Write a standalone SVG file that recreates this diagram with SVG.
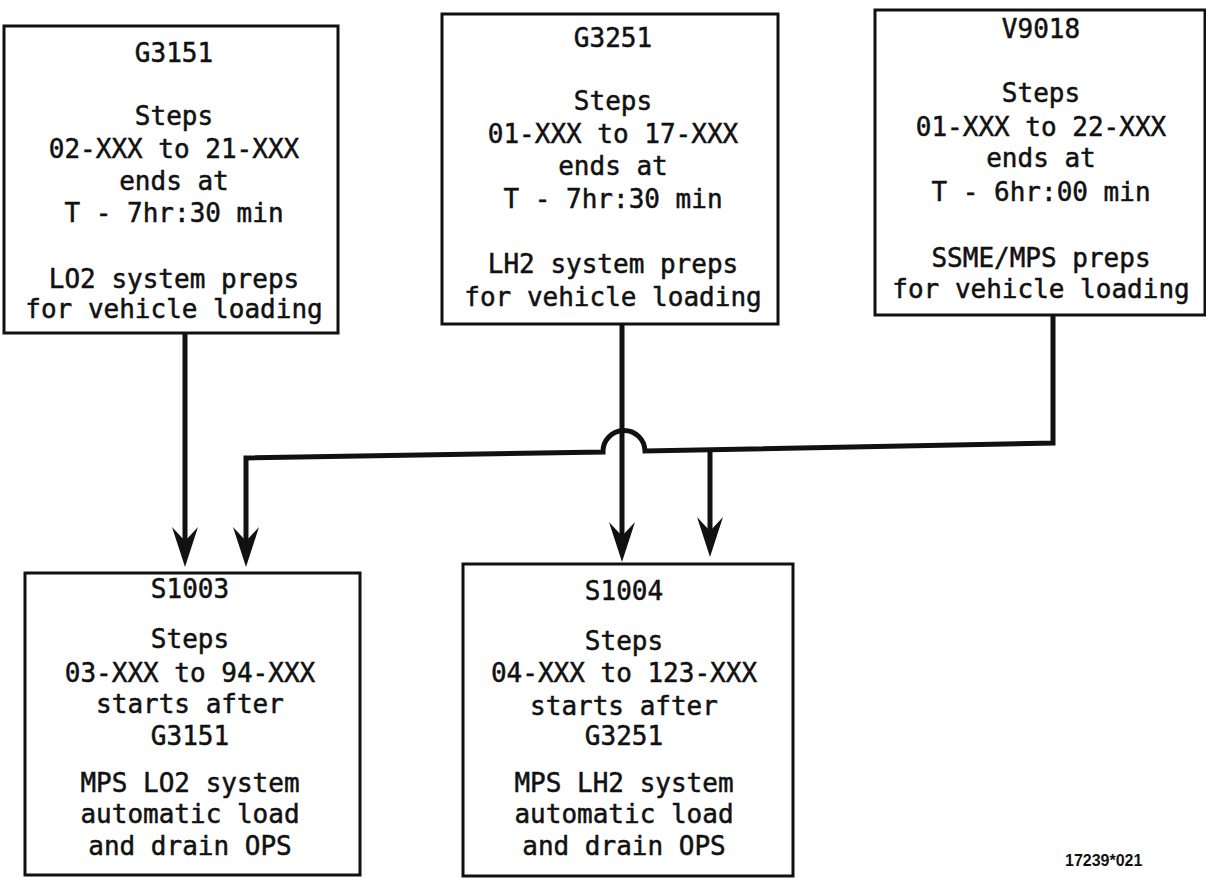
<svg xmlns="http://www.w3.org/2000/svg" width="1206" height="878" viewBox="0 0 1206 878">
<style>
.box{fill:#fff;stroke:#111;stroke-width:3}
.t{font-family:"DejaVu Sans Mono",monospace;font-size:26px;fill:#111;stroke:#111;stroke-width:0.5;text-anchor:middle}
.wire{fill:none;stroke:#111;stroke-width:5;stroke-linejoin:miter}
.tag{font-family:"Liberation Sans",Arial,sans-serif;font-weight:bold;font-size:16px;fill:#111}
</style>
<defs>
<marker id="arr" markerUnits="userSpaceOnUse" markerWidth="48" markerHeight="30" viewBox="0 -15 48 30" refX="22" refY="0" orient="auto" overflow="visible">
<path d="M40,0 L0,-13 L14,0 L0,13 Z" fill="#111"/>
</marker>
</defs>
<rect width="1206" height="878" fill="#fff"/>
<g id="connectors">
<path class="wire" d="M185,333 V549" marker-end="url(#arr)"/>
<path class="wire" d="M1053,315 V443 L645,451 A21,21 0 0 0 603,452 L246,458 V549" marker-end="url(#arr)"/>
<path class="wire" d="M622,324 V544" marker-end="url(#arr)"/>
<path class="wire" d="M710,450 V539" marker-end="url(#arr)"/>
</g>
<g id="G3151">
<rect class="box" x="4" y="26" width="334" height="307"/>
<text class="t" x="174" y="62">G3151</text>
<text class="t" x="174" y="125">Steps</text>
<text class="t" x="174" y="158">02-XXX to 21-XXX</text>
<text class="t" x="174" y="190">ends at</text>
<text class="t" x="174" y="222">T - 7hr:30 min</text>
<text class="t" x="174" y="288">LO2 system preps</text>
<text class="t" x="174" y="318">for vehicle loading</text>
</g>
<g id="G3251">
<rect class="box" x="442" y="14" width="336" height="310"/>
<text class="t" x="613" y="47">G3251</text>
<text class="t" x="613" y="110">Steps</text>
<text class="t" x="613" y="143">01-XXX to 17-XXX</text>
<text class="t" x="613" y="175">ends at</text>
<text class="t" x="613" y="208">T - 7hr:30 min</text>
<text class="t" x="613" y="273">LH2 system preps</text>
<text class="t" x="613" y="306">for vehicle loading</text>
</g>
<g id="V9018">
<rect class="box" x="875" y="10" width="330" height="305"/>
<text class="t" x="1041" y="38">V9018</text>
<text class="t" x="1041" y="102">Steps</text>
<text class="t" x="1041" y="136">01-XXX to 22-XXX</text>
<text class="t" x="1041" y="167">ends at</text>
<text class="t" x="1041" y="201">T - 6hr:00 min</text>
<text class="t" x="1041" y="267">SSME/MPS preps</text>
<text class="t" x="1041" y="298">for vehicle loading</text>
</g>
<g id="S1003">
<rect class="box" x="25" y="573" width="335" height="302"/>
<text class="t" x="190" y="598">S1003</text>
<text class="t" x="190" y="648">Steps</text>
<text class="t" x="190" y="682">03-XXX to 94-XXX</text>
<text class="t" x="190" y="713">starts after</text>
<text class="t" x="190" y="745">G3151</text>
<text class="t" x="190" y="792">MPS LO2 system</text>
<text class="t" x="190" y="823">automatic load</text>
<text class="t" x="190" y="855">and drain OPS</text>
</g>
<g id="S1004">
<rect class="box" x="463" y="564" width="330" height="312"/>
<text class="t" x="624" y="600">S1004</text>
<text class="t" x="624" y="650">Steps</text>
<text class="t" x="624" y="682">04-XXX to 123-XXX</text>
<text class="t" x="624" y="715">starts after</text>
<text class="t" x="624" y="745">G3251</text>
<text class="t" x="624" y="792">MPS LH2 system</text>
<text class="t" x="624" y="823">automatic load</text>
<text class="t" x="624" y="855">and drain OPS</text>
</g>
<text class="tag" x="1065" y="866">17239*021</text>
</svg>
